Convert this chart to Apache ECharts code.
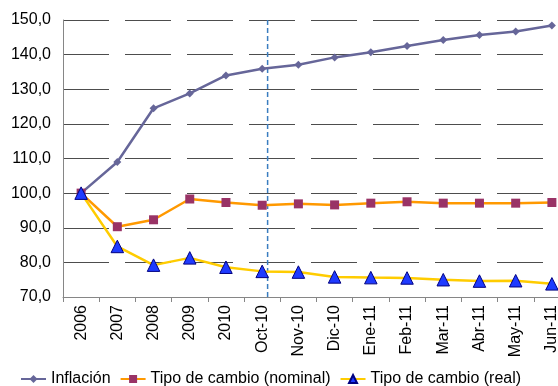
<!DOCTYPE html>
<html>
<head>
<meta charset="utf-8">
<script src="https://cdn.jsdelivr.net/npm/echarts@6/dist/echarts.min.js"></script>
<style>
  html, body { margin: 0; padding: 0; background: #fff; }
  #chart { width: 558px; height: 386px; }
</style>
</head>
<body>
<div id="chart"></div>
<script>
// Periods on the horizontal axis
const categories = ['2006', '2007', '2008', '2009', '2010', 'Oct-10', 'Nov-10', 'Dic-10',
  'Ene-11', 'Feb-11', 'Mar-11', 'Abr-11', 'May-11', 'Jun-11'];

// Index values (2006 = 100)
const inflacion = [100.0, 109.0, 124.5, 128.8, 134.0, 135.9, 137.1, 139.2, 140.7, 142.5, 144.2, 145.7, 146.7, 148.4];
const tipoNominal = [100.0, 90.3, 92.3, 98.3, 97.3, 96.5, 96.9, 96.6, 97.1, 97.5, 97.1, 97.1, 97.1, 97.3];
const tipoReal = [100.0, 84.6, 79.2, 81.3, 78.6, 77.4, 77.2, 75.8, 75.6, 75.5, 75.0, 74.6, 74.7, 73.8];

// Value axis range
const yMin = 70;
const yMax = 150;

// Vertical separator: drawn just after the Oct-10 point (offset as a fraction of one category band)
const dividerCategory = 'Oct-10';
const dividerOffset = 0.15;

const chart = echarts.init(document.getElementById('chart'), null, { renderer: 'canvas' });
const font = 'Liberation Sans, Arial, sans-serif';

chart.setOption({
  animation: false,
  backgroundColor: '#ffffff',
  grid: { left: 63, top: 20, width: 507, bottom: 89, containLabel: false, outerBoundsMode: 'none' },
  legend: {
    top: 366,
    left: 15,
    itemWidth: 25,
    itemHeight: 10,
    itemGap: 9,
    textStyle: { fontFamily: font, fontSize: 16, color: '#000' },
    data: ['Inflación', 'Tipo de cambio (nominal)', 'Tipo de cambio (real)']
  },
  xAxis: {
    type: 'category',
    data: categories,
    boundaryGap: true,
    axisLine: { lineStyle: { color: '#868686', width: 1 } },
    axisTick: { show: true, length: 5, lineStyle: { color: '#868686' } },
    axisLabel: { rotate: 90, fontFamily: font, fontSize: 16, color: '#000', margin: 8, interval: 0 },
    splitLine: { show: false }
  },
  yAxis: {
    type: 'value',
    min: yMin,
    max: yMax,
    interval: 10,
    axisLine: { show: true, lineStyle: { color: '#868686', width: 1 } },
    axisTick: { show: false },
    axisLabel: {
      fontFamily: font, fontSize: 16, color: '#000', margin: 12,
      formatter: v => v.toFixed(1).replace('.', ',')
    },
    splitLine: { lineStyle: { color: '#4d4d4d', width: 1, type: [46, 16], dashOffset: 0 } }
  },
  series: [{
    name: 'Inflación',
    type: 'line',
    data: inflacion,
    symbol: 'diamond',
    symbolSize: 8,
    lineStyle: { color: '#666699', width: 2.5 },
    itemStyle: { color: '#666699' },
    z: 3
  }, {
    name: 'Tipo de cambio (nominal)',
    type: 'line',
    data: tipoNominal,
    symbol: 'rect',
    symbolSize: 9,
    lineStyle: { color: '#ff9900', width: 2.5 },
    itemStyle: { color: '#993366' },
    z: 3
  }, {
    name: 'Tipo de cambio (real)',
    type: 'line',
    data: tipoReal,
    symbol: 'triangle',
    symbolSize: 12.5,
    lineStyle: { color: '#ffcc00', width: 2.5 },
    itemStyle: { color: '#1f3bff', borderColor: '#000080', borderWidth: 1 },
    z: 4
  }, {
    name: 'separador',
    type: 'custom',
    silent: true,
    z: 2,
    data: [[dividerCategory]],
    renderItem: (params, api) => {
      const idx = api.value(0);
      const top = api.coord([idx, yMax]);
      const bottom = api.coord([idx, yMin]);
      const band = api.size([1, 0])[0];
      const x = top[0] + dividerOffset * band;
      return {
        type: 'line',
        shape: { x1: x, y1: top[1], x2: x, y2: bottom[1] },
        style: { stroke: '#3a7dc0', lineWidth: 1.5, lineDash: [5, 3] }
      };
    }
  }]
});
</script>
</body>
</html>
